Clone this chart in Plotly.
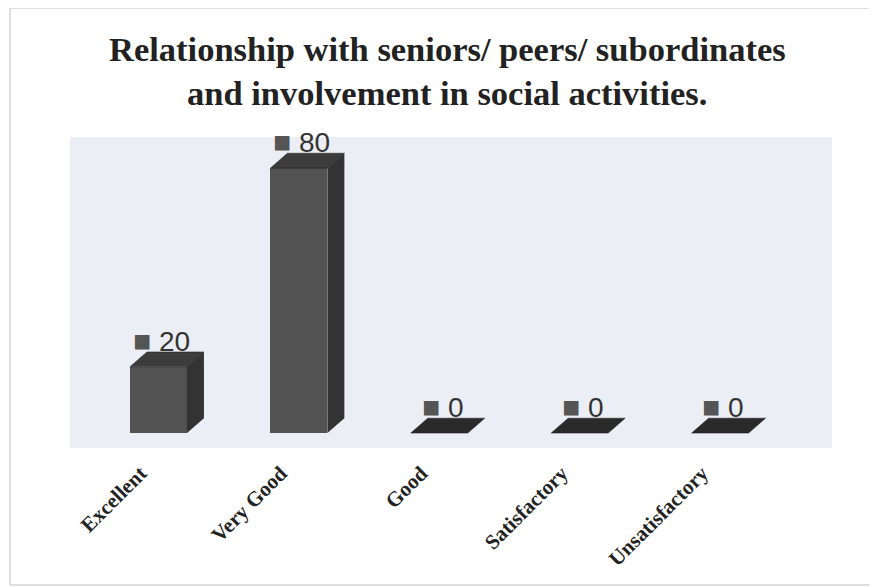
import plotly.graph_objects as go

# data
categories = ["Excellent", "Very Good", "Good", "Satisfactory", "Unsatisfactory"]
values = [20, 80, 0, 0, 0]

title_line1 = "Relationship with seniors/ peers/ subordinates"
title_line2 = "and involvement in social activities."

# fake 3d look (data units)
bar_w = 0.406
dx = 0.121
dy = 4.5

front_col = "#525252"
side_col = "#333333"
top_col = "#2a2a2a"

fig = go.Figure()

xs = list(range(len(categories)))

# side and top faces, built from the values
for i, v in zip(xs, values):
    r = i + bar_w / 2
    l = i - bar_w / 2
    if v > 0:
        fig.add_trace(go.Scatter(
            x=[r, r + dx, r + dx, r, r],
            y=[0, dy, v + dy, v, 0],
            fill="toself", fillcolor=side_col, mode="lines",
            line=dict(width=0, color=side_col), hoverinfo="skip", showlegend=False,
        ))
    fig.add_trace(go.Scatter(
        x=[l, r, r + dx, l + dx, l],
        y=[v, v, v + dy, v + dy, v],
        fill="toself", fillcolor=top_col if v == 0 else "#3c3c3c", mode="lines",
        line=dict(width=0.5, color="#1a1a1a"), hoverinfo="skip", showlegend=False,
    ))

# front faces
fig.add_trace(go.Bar(
    x=xs, y=values, width=bar_w,
    marker=dict(color=front_col, line=dict(width=0)),
    showlegend=False,
))

# value labels with the little square
for i, v in zip(xs, values):
    fig.add_annotation(
        x=i + 0.02, y=v + dy, yshift=-7,
        text='<span style="color:#555555;font-size:30px">■</span> ' + str(v),
        showarrow=False, xanchor="center", yanchor="bottom",
        font=dict(family="Liberation Sans", size=28, color="#333333"),
    )

# title, two lines
fig.add_annotation(
    x=0.495, y=1.283, xref="paper", yref="paper", text="<b>" + title_line1 + "</b>",
    showarrow=False, xanchor="center", yanchor="middle",
    font=dict(family="Liberation Serif", size=34.5, color="#222222"),
)
fig.add_annotation(
    x=0.495, y=1.140, xref="paper", yref="paper", text="<b>" + title_line2 + "</b>",
    showarrow=False, xanchor="center", yanchor="middle",
    font=dict(family="Liberation Serif", size=34.5, color="#222222"),
)

# faint frame round the chart
fig.add_shape(type="rect", xref="paper", yref="paper",
              x0=-0.0787, x1=1.0525, y0=-0.4405, y1=1.4148,
              line=dict(color="#bdbdbd", width=1), layer="below")

fig.update_layout(
    width=869, height=579,
    margin=dict(l=62, r=45, t=129, b=139),
    paper_bgcolor="white",
    plot_bgcolor="#eceef6",
    bargap=0,
    xaxis=dict(
        range=[-0.63, 4.797],
        tickvals=xs, ticktext=categories,
        tickangle=-45,
        tickfont=dict(family="Liberation Serif", size=21, color="#222222", weight="bold"),
        showgrid=False, zeroline=False, showline=False, ticks="",
        ticklabelshift=-18, ticklabelstandoff=8,
    ),
    yaxis=dict(
        range=[-4.5, 89.4],
        showgrid=False, zeroline=False, showticklabels=False, showline=False,
    ),
)

fig.write_html("out.html")
